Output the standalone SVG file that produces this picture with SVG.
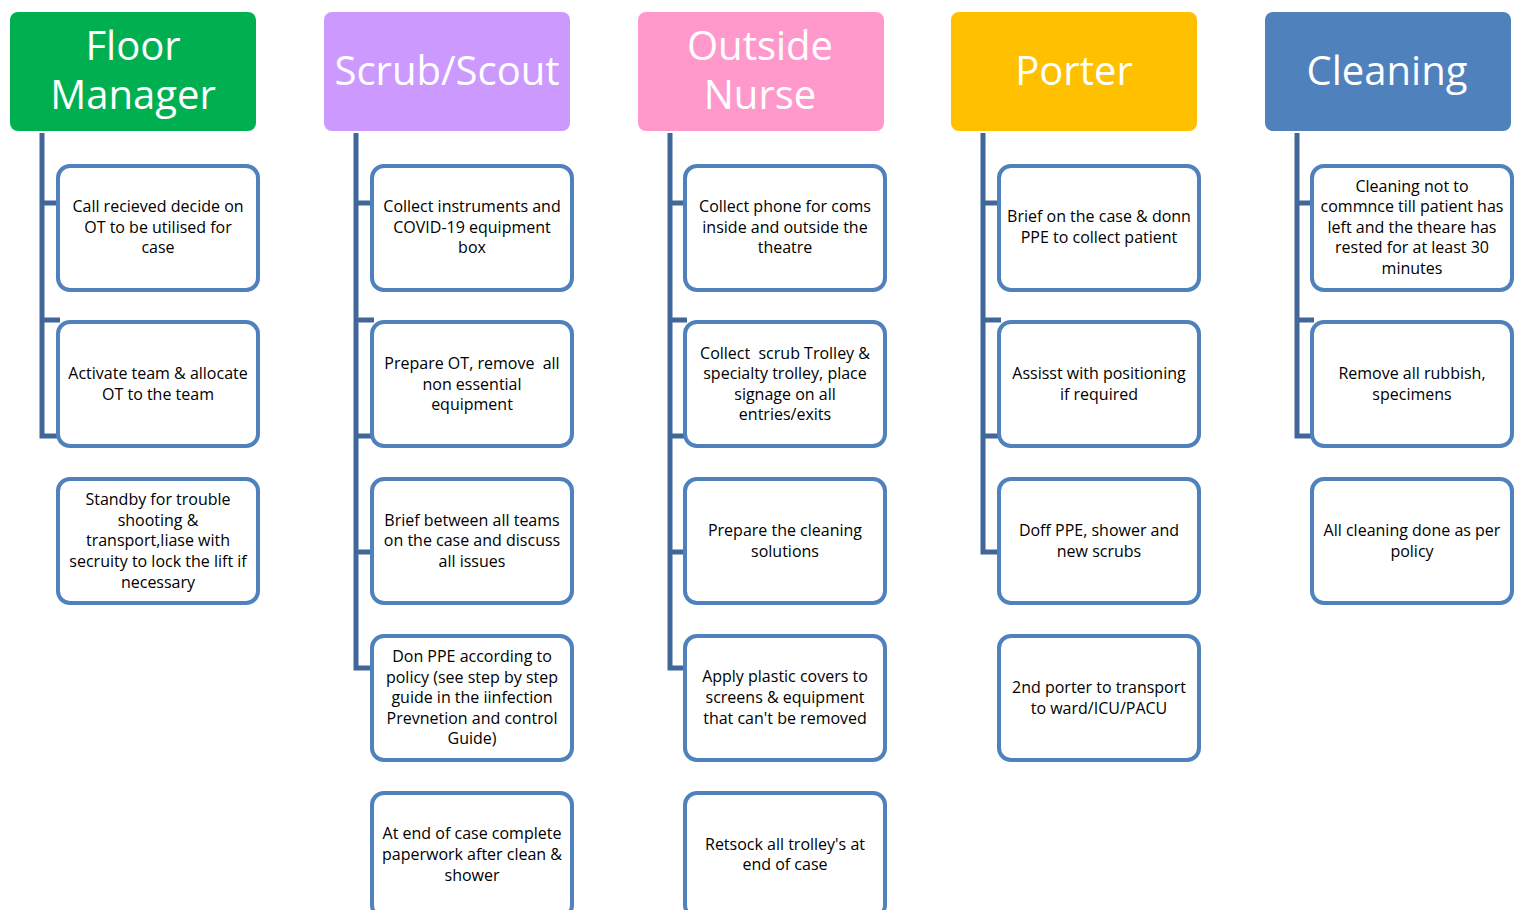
<svg xmlns="http://www.w3.org/2000/svg" width="1521" height="910" viewBox="0 0 1521 910">
<style>
.hdr{stroke:none}
.ht{font-family:"Open Sans","Noto Sans",sans-serif;font-size:40px;fill:#ffffff;text-anchor:middle}
.box{fill:#ffffff;stroke:#4f81bd;stroke-width:4}
.bt{font-family:"Open Sans","Noto Sans",sans-serif;font-size:16px;fill:#000000;text-anchor:middle}
.con{fill:none;stroke:#41679a;stroke-width:5;stroke-linejoin:miter}
</style>
<rect width="1521" height="910" fill="#ffffff"/>
<g id="connectors">
<path class="con" d="M42,133 V436 H60 M42,203 H60 M42,320 H60"/>
<path class="con" d="M356,133 V668 H374 M356,203 H374 M356,320 H374 M356,436 H374 M356,552 H374"/>
<path class="con" d="M670,133 V668 H687 M670,203 H687 M670,320 H687 M670,436 H687 M670,552 H687"/>
<path class="con" d="M983,133 V552 H1001 M983,203 H1001 M983,320 H1001 M983,436 H1001"/>
<path class="con" d="M1297,133 V436 H1314 M1297,203 H1314 M1297,320 H1314"/>
</g>
<g id="floor-manager">
<rect class="hdr" x="10" y="12" width="246" height="119" rx="8" fill="#00b050"/>
<text class="ht"><tspan x="133" y="60">Floor</tspan><tspan x="133" y="109">Manager</tspan></text>
</g>
<g id="scrub-scout">
<rect class="hdr" x="324" y="12" width="246" height="119" rx="8" fill="#cc99ff"/>
<text class="ht" x="447" y="85">Scrub/Scout</text>
</g>
<g id="outside-nurse">
<rect class="hdr" x="638" y="12" width="246" height="119" rx="8" fill="#ff99cc"/>
<text class="ht"><tspan x="760" y="60">Outside</tspan><tspan x="760" y="109">Nurse</tspan></text>
</g>
<g id="porter">
<rect class="hdr" x="951" y="12" width="246" height="119" rx="8" fill="#ffc000"/>
<text class="ht" x="1074" y="85">Porter</text>
</g>
<g id="cleaning">
<rect class="hdr" x="1265" y="12" width="246" height="119" rx="8" fill="#4f81bd"/>
<text class="ht" x="1387" y="85">Cleaning</text>
</g>

<g id="fm-1"><rect class="box" x="58" y="166" width="200" height="124" rx="12"/>
<text class="bt" x="158" y="212">Call recieved decide on</text><text class="bt" x="158" y="233">OT to be utilised for</text><text class="bt" x="158" y="253">case</text></g>
<g id="fm-2"><rect class="box" x="58" y="322" width="200" height="124" rx="12"/>
<text class="bt" x="158" y="379">Activate team &amp; allocate</text><text class="bt" x="158" y="400">OT to the team</text></g>
<g id="fm-3"><rect class="box" x="58" y="479" width="200" height="124" rx="12"/>
<text class="bt" x="158" y="505">Standby for trouble</text><text class="bt" x="158" y="526">shooting &amp;</text><text class="bt" x="158" y="546">transport,liase with</text><text class="bt" x="158" y="567">secruity to lock the lift if</text><text class="bt" x="158" y="588">necessary</text></g>

<g id="ss-1"><rect class="box" x="372" y="166" width="200" height="124" rx="12"/>
<text class="bt" x="472" y="212">Collect instruments and</text><text class="bt" x="472" y="233">COVID-19 equipment</text><text class="bt" x="472" y="253">box</text></g>
<g id="ss-2"><rect class="box" x="372" y="322" width="200" height="124" rx="12"/>
<text class="bt" x="472" y="369" xml:space="preserve">Prepare OT, remove  all</text><text class="bt" x="472" y="390">non essential</text><text class="bt" x="472" y="410">equipment</text></g>
<g id="ss-3"><rect class="box" x="372" y="479" width="200" height="124" rx="12"/>
<text class="bt" x="472" y="526">Brief between all teams</text><text class="bt" x="472" y="546">on the case and discuss</text><text class="bt" x="472" y="567">all issues</text></g>
<g id="ss-4"><rect class="box" x="372" y="636" width="200" height="124" rx="12"/>
<text class="bt" x="472" y="662">Don PPE according to</text><text class="bt" x="472" y="683">policy (see step by step</text><text class="bt" x="472" y="703">guide in the iinfection</text><text class="bt" x="472" y="724">Prevnetion and control</text><text class="bt" x="472" y="744">Guide)</text></g>
<g id="ss-5"><rect class="box" x="372" y="793" width="200" height="124" rx="12"/>
<text class="bt" x="472" y="839">At end of case complete</text><text class="bt" x="472" y="860">paperwork after clean &amp;</text><text class="bt" x="472" y="881">shower</text></g>

<g id="on-1"><rect class="box" x="685" y="166" width="200" height="124" rx="12"/>
<text class="bt" x="785" y="212">Collect phone for coms</text><text class="bt" x="785" y="233">inside and outside the</text><text class="bt" x="785" y="253">theatre</text></g>
<g id="on-2"><rect class="box" x="685" y="322" width="200" height="124" rx="12"/>
<text class="bt" x="785" y="359" xml:space="preserve">Collect  scrub Trolley &amp;</text><text class="bt" x="785" y="379">specialty trolley, place</text><text class="bt" x="785" y="400">signage on all</text><text class="bt" x="785" y="420">entries/exits</text></g>
<g id="on-3"><rect class="box" x="685" y="479" width="200" height="124" rx="12"/>
<text class="bt" x="785" y="536">Prepare the cleaning</text><text class="bt" x="785" y="557">solutions</text></g>
<g id="on-4"><rect class="box" x="685" y="636" width="200" height="124" rx="12"/>
<text class="bt" x="785" y="682">Apply plastic covers to</text><text class="bt" x="785" y="703">screens &amp; equipment</text><text class="bt" x="785" y="724">that can't be removed</text></g>
<g id="on-5"><rect class="box" x="685" y="793" width="200" height="124" rx="12"/>
<text class="bt" x="785" y="850">Retsock all trolley's at</text><text class="bt" x="785" y="870">end of case</text></g>

<g id="po-1"><rect class="box" x="999" y="166" width="200" height="124" rx="12"/>
<text class="bt" x="1099" y="222">Brief on the case &amp; donn</text><text class="bt" x="1099" y="243">PPE to collect patient</text></g>
<g id="po-2"><rect class="box" x="999" y="322" width="200" height="124" rx="12"/>
<text class="bt" x="1099" y="379">Assisst with positioning</text><text class="bt" x="1099" y="400">if required</text></g>
<g id="po-3"><rect class="box" x="999" y="479" width="200" height="124" rx="12"/>
<text class="bt" x="1099" y="536">Doff PPE, shower and</text><text class="bt" x="1099" y="557">new scrubs</text></g>
<g id="po-4"><rect class="box" x="999" y="636" width="200" height="124" rx="12"/>
<text class="bt" x="1099" y="693">2nd porter to transport</text><text class="bt" x="1099" y="714">to ward/ICU/PACU</text></g>

<g id="cl-1"><rect class="box" x="1312" y="166" width="200" height="124" rx="12"/>
<text class="bt" x="1412" y="192">Cleaning not to</text><text class="bt" x="1412" y="212">commnce till patient has</text><text class="bt" x="1412" y="233">left and the theare has</text><text class="bt" x="1412" y="253">rested for at least 30</text><text class="bt" x="1412" y="274">minutes</text></g>
<g id="cl-2"><rect class="box" x="1312" y="322" width="200" height="124" rx="12"/>
<text class="bt" x="1412" y="379">Remove all rubbish,</text><text class="bt" x="1412" y="400">specimens</text></g>
<g id="cl-3"><rect class="box" x="1312" y="479" width="200" height="124" rx="12"/>
<text class="bt" x="1412" y="536">All cleaning done as per</text><text class="bt" x="1412" y="557">policy</text></g>
</svg>
